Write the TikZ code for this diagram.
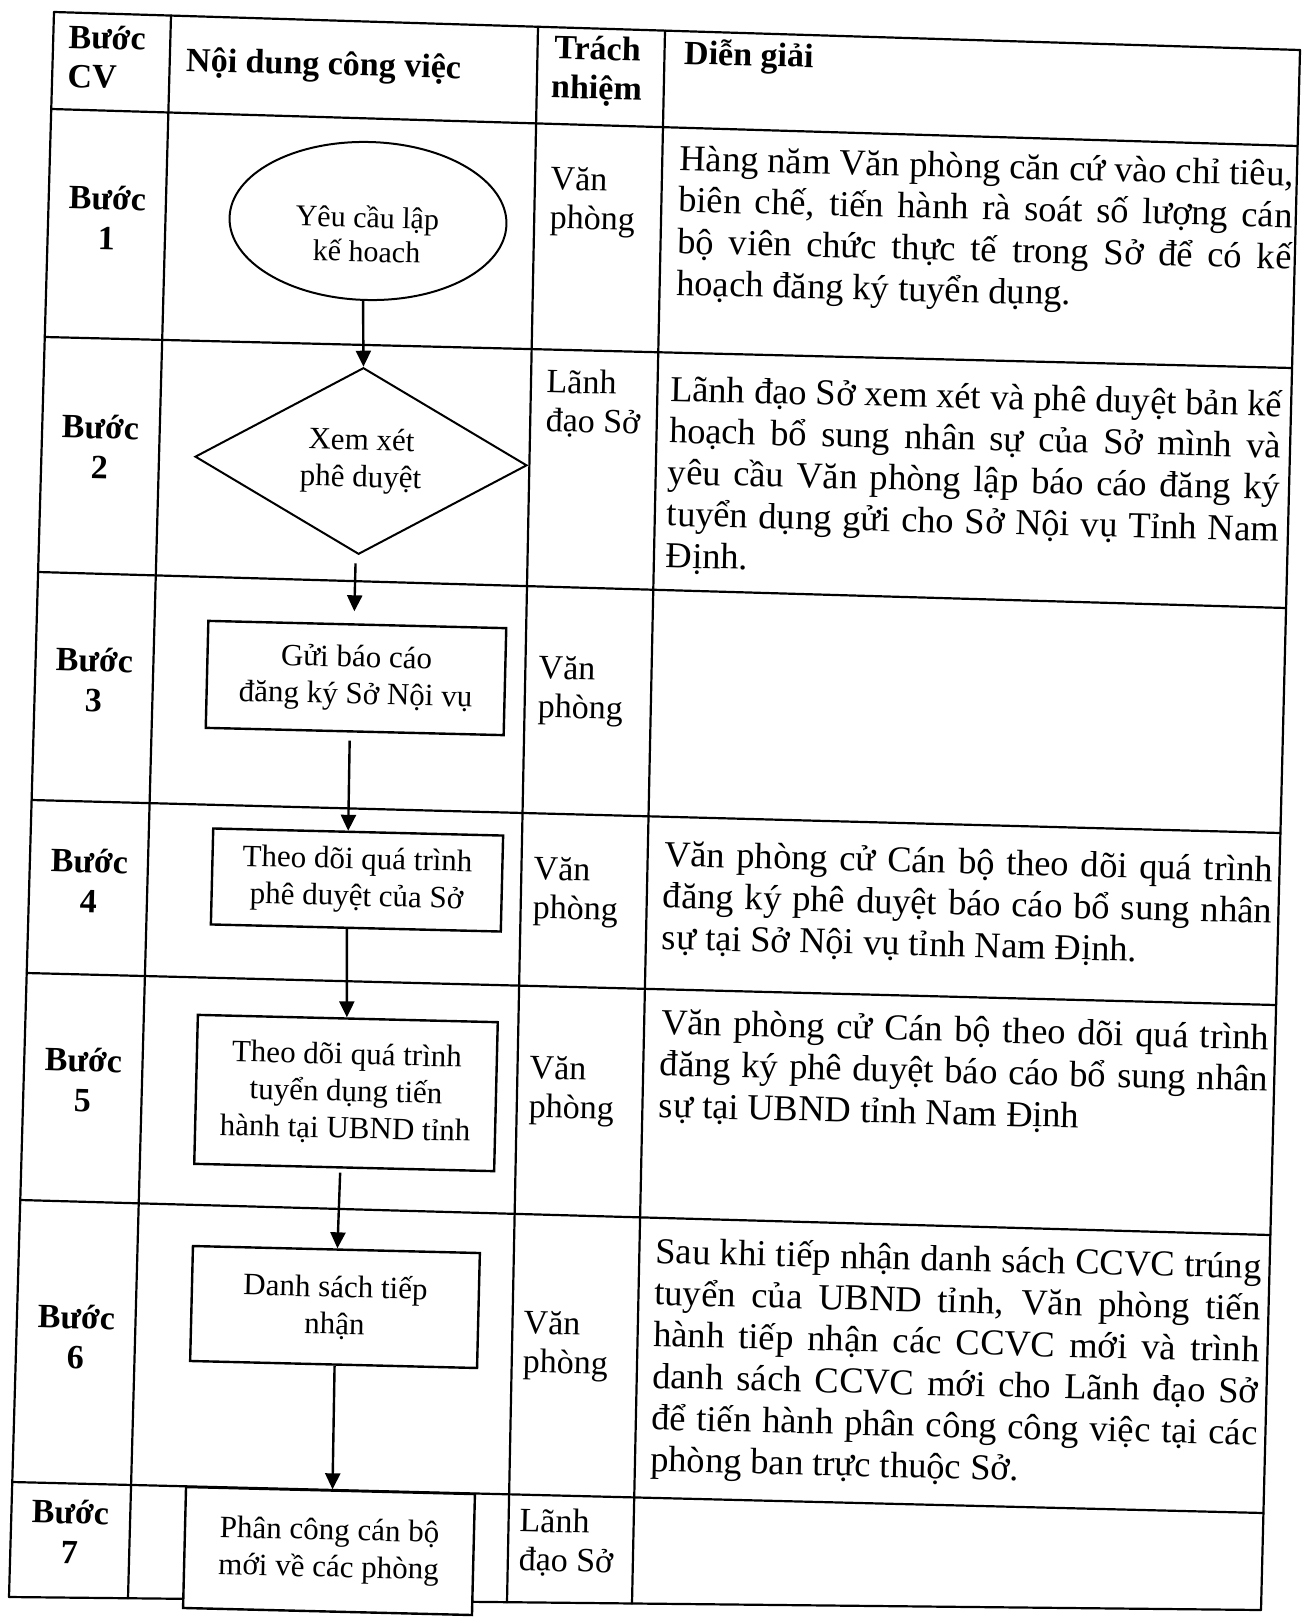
\documentclass[tikz,border=0pt]{standalone}
\usepackage{fontspec}
\setmainfont{Liberation Serif}
\usetikzlibrary{shapes.geometric,arrows.meta,calc}
\newcommand{\jl}[2]{\makebox[#1pt][s]{#2}}
\begin{document}
\begin{tikzpicture}[x=1pt,y=-1pt,
  tline/.style={line width=2.2pt, line cap=round},
  fbox/.style={draw, line width=2.4pt, fill=white, rotate=-1.4, inner sep=0pt, align=center, font=\fontsize{31pt}{37pt}\selectfont},
  arr/.style={line width=2.4pt, -{Triangle[length=16pt,width=15pt]}},
  hdr/.style={font=\bfseries\fontsize{34pt}{39pt}\selectfont, rotate=-1.5, inner sep=0pt},
  stepl/.style={font=\bfseries\fontsize{34pt}{40pt}\selectfont, align=center, rotate=-1.4, inner sep=0pt},
  resp/.style={font=\fontsize{34pt}{39pt}\selectfont, align=left, anchor=west, rotate=-1.4, inner sep=0pt},
  desc/.style={font=\fontsize{36.5pt}{41.6pt}\selectfont, align=left, anchor=west, rotate=-1.45, inner sep=0pt},
]
\fill[white] (0,0) rectangle (1304,1624);
\useasboundingbox (0,0) rectangle (1304,1624);

% vertical line end points
\coordinate (Va0) at (54,12);    \coordinate (Vb0) at (9,1597);
\coordinate (Va1) at (171,15.6); \coordinate (Vb1) at (128,1598.2);
\coordinate (Va2) at (538,26.8); \coordinate (Vb2) at (507,1602.2);
\coordinate (Va3) at (665,30.6); \coordinate (Vb3) at (632,1603.5);
\coordinate (Va4) at (1300,50);  \coordinate (Vb4) at (1261,1610);
% horizontal line end points
\coordinate (La0) at (54,12);    \coordinate (Lb0) at (1300,50);
\coordinate (La1) at (51.2,109); \coordinate (Lb1) at (1297.6,146);
\coordinate (La2) at (44.8,337); \coordinate (Lb2) at (1292,368);
\coordinate (La3) at (38.1,572); \coordinate (Lb3) at (1286,608);
\coordinate (La4) at (31.6,800); \coordinate (Lb4) at (1280.4,833);
\coordinate (La5) at (26.7,973); \coordinate (Lb5) at (1276,1005);
\coordinate (La6) at (20.3,1200);\coordinate (Lb6) at (1270.4,1235);
\coordinate (La7) at (12.3,1482);\coordinate (Lb7) at (1263.4,1513);
\coordinate (La8) at (9,1597);   \coordinate (Lb8) at (1261,1610);

\foreach \i in {0,...,8}
  \draw[tline] (La\i) -- (Lb\i);
\foreach \j in {0,...,4}
  \draw[tline] (Va\j) -- (Vb\j);

% header
\node[hdr, align=left, anchor=west] (h1) at (68,56) {Bước\\CV};
\node[hdr, anchor=west] (h2) at (186,63) {Nội dung công việc};
\node[hdr, align=center] (h3) at (597,71) {Trách\\nhiệm};
\node[hdr, anchor=west] (h4) at (684,55) {Diễn giải};

% step labels
\node[stepl] (s1) at (107,218) {Bước\\1};
\node[stepl] (s2) at (100,447) {Bước\\2};
\node[stepl] (s3) at (94,680) {Bước\\3};
\node[stepl] (s4) at (89,881) {Bước\\4};
\node[stepl] (s5) at (83,1080) {Bước\\5};
\node[stepl] (s6) at (76,1337) {Bước\\6};
\node[stepl] (s7) at (70,1532) {Bước\\7};

% responsibility
\node[resp] (r1) at (550,201) {Văn\\phòng};
\node[resp] (r2) at (546,403) {Lãnh\\đạo Sở};
\node[resp] (r3) at (538,690) {Văn\\phòng};
\node[resp] (r4) at (533,891) {Văn\\phòng};
\node[resp] (r5) at (529,1090) {Văn\\phòng};
\node[resp] (r6) at (523,1345) {Văn\\phòng};
\node[resp] (r7) at (519,1542) {Lãnh\\đạo Sở};

% descriptions
\node[desc] (d1) at (678,224) {\jl{614}{Hàng năm Văn phòng căn cứ vào chỉ tiêu,}\\
\jl{614}{biên chế, tiến hành rà soát số lượng cán}\\
\jl{614}{bộ viên chức thực tế trong Sở để có kế}\\
hoạch đăng ký tuyển dụng.};
\node[desc] (dd2) at (668,474) {\jl{612}{Lãnh đạo Sở xem xét và phê duyệt bản kế}\\
\jl{612}{hoạch bổ sung nhân sự của Sở mình và}\\
\jl{612}{yêu cầu Văn phòng lập báo cáo đăng ký}\\
\jl{612}{tuyển dụng gửi cho Sở Nội vụ Tỉnh Nam}\\
Định.};
\node[desc] (d4) at (663,898) {\jl{609}{Văn phòng cử Cán bộ theo dõi quá trình}\\
\jl{609}{đăng ký phê duyệt báo cáo bổ sung nhân}\\
sự tại Sở Nội vụ tỉnh Nam Định.};
\node[desc] (d5) at (660,1066) {\jl{608}{Văn phòng cử Cán bộ theo dõi quá trình}\\
\jl{608}{đăng ký phê duyệt báo cáo bổ sung nhân}\\
sự tại UBND tỉnh Nam Định};
\node[desc] (d6) at (653,1358) {\jl{606}{Sau khi tiếp nhận danh sách CCVC trúng}\\
\jl{606}{tuyển của UBND tỉnh, Văn phòng tiến}\\
\jl{606}{hành tiếp nhận các CCVC mới và trình}\\
\jl{606}{danh sách CCVC mới cho Lãnh đạo Sở}\\
\jl{606}{để tiến hành phân công công việc tại các}\\
phòng ban trực thuộc Sở.};

% flowchart
\node[fbox, ellipse, line width=2pt, minimum width=277pt, minimum height=158pt] (e1) at (368,221) {};
\node[font=\fontsize{30pt}{34pt}\selectfont, align=center, rotate=-1.4, inner sep=0pt] (e1t) at (367,234) {Yêu cầu lập\\kế hoach};
\node[fbox, diamond, line width=2pt, minimum width=332pt, minimum height=182pt, rotate=-0.1] (dm2) at (361,461) {Xem xét\\phê duyệt};
\node[fbox, minimum width=298pt, minimum height=107pt] (b3) at (356,678) {Gửi báo cáo\\đăng ký Sở Nội vụ};
\node[fbox, minimum width=290pt, minimum height=96pt] (b4) at (357,880) {Theo dõi quá trình\\phê duyệt của Sở};
\node[fbox, minimum width=300pt, minimum height=149pt] (b5) at (346,1093) {Theo dõi quá trình\\tuyển dụng tiến\\hành tại UBND tỉnh};
\node[fbox, minimum width=287pt, minimum height=115pt] (b6) at (335,1307) {Danh sách tiếp\\nhận};
\node[fbox, minimum width=289pt, minimum height=121pt] (b7) at (329,1551) {Phân công cán bộ\\mới về các phòng};

\draw[arr] ($(e1.south)+(-3,0)$) -- (dm2.north);
\draw[arr] ($(dm2.south)+(-3,8)$) -- ($(b3.north)+(-3,-12)$);
\draw[arr] ($(b3.south)+(-5,8)$) -- ($(b4.north)+(-10,0)$);
\draw[arr] ($(b4.south)+(-9,0)$) -- ($(b5.north)+(-1,0)$);
\draw[arr] ($(b5.south)+(-4,4)$) -- ($(b6.north)+(1,0)$);
\draw[arr] ($(b6.south)+(1,0)$) -- ($(b7.north)+(2,0)$);
\end{tikzpicture}
\end{document}
